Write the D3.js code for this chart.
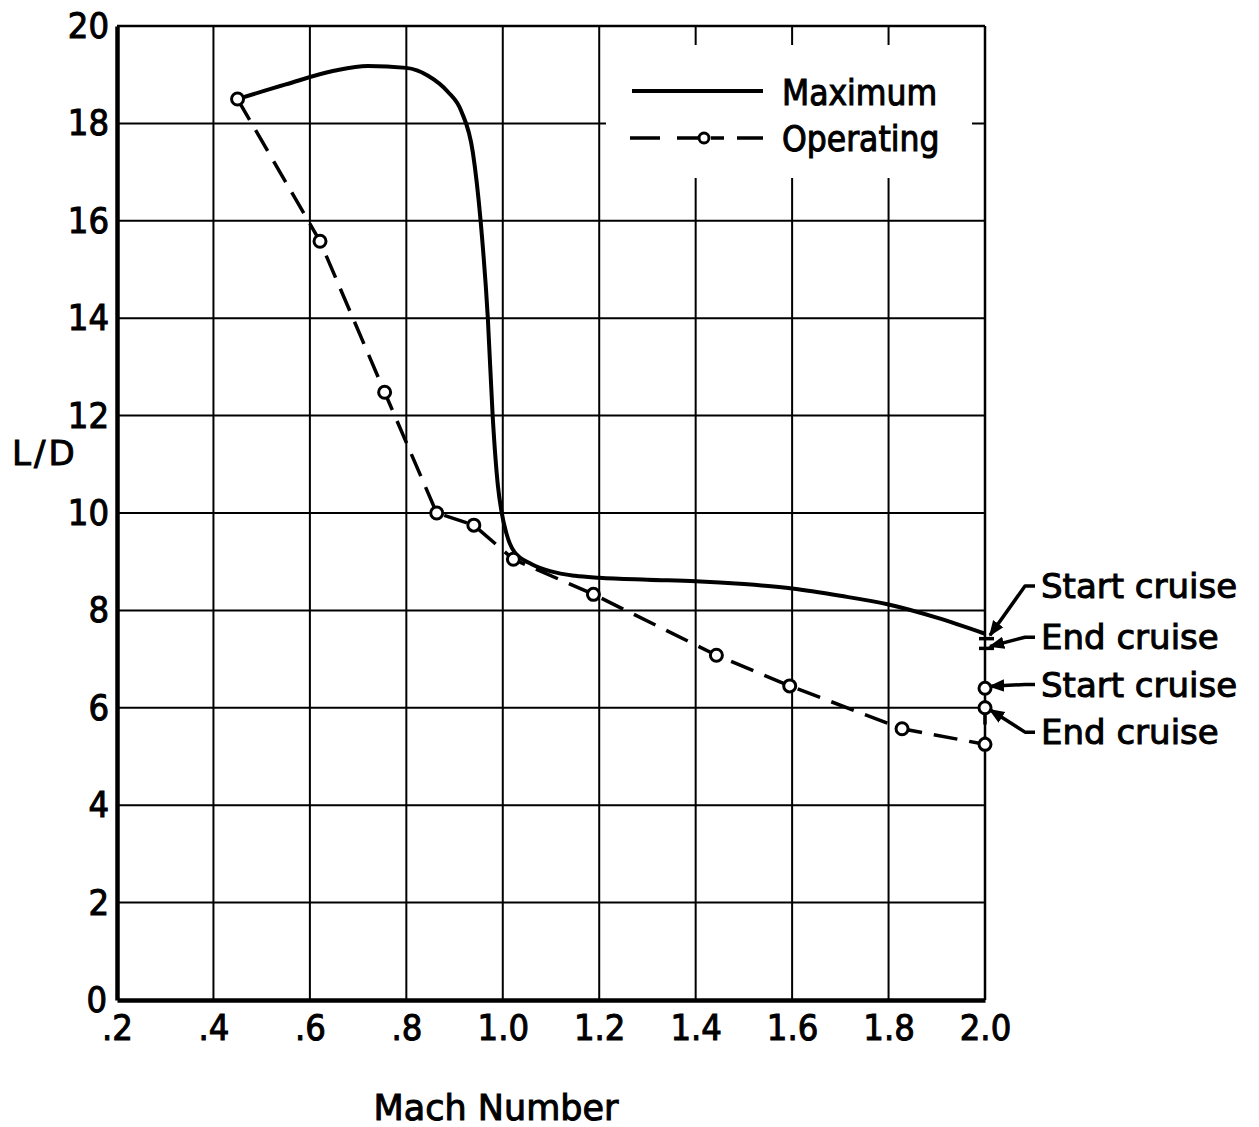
<!DOCTYPE html>
<html>
<head>
<meta charset="utf-8">
<script src="https://cdn.jsdelivr.net/npm/d3@7"></script>
<style>
  body { margin: 0; background: #fff; }
  text { font-family: "DejaVu Sans Condensed", "DejaVu Sans", sans-serif; fill: #000; stroke: #000; stroke-width: 1px; }
  text.wide { font-family: "DejaVu Sans", sans-serif; }
</style>
</head>
<body>
<svg id="chart" width="1259" height="1127"></svg>
<script>
// maximum L/D curve
const maxMach = [0.45, 0.55, 0.65, 0.72, 0.80, 0.845, 0.886, 0.914, 0.938, 0.954, 0.969, 0.979, 0.990, 0.997, 1.007, 1.024, 1.06, 1.10, 1.15, 1.20, 1.30, 1.40, 1.50, 1.60, 1.70, 1.80, 1.90, 2.00];
const maxLD   = [18.5, 18.8, 19.08, 19.18, 19.14, 18.98, 18.65, 18.25, 17.4, 16.0, 14.0, 12.0, 10.55, 10.05, 9.6, 9.2, 8.95, 8.8, 8.71, 8.67, 8.63, 8.6, 8.54, 8.45, 8.3, 8.12, 7.85, 7.52];
// operating L/D points
const opMach = [0.45, 0.621, 0.755, 0.863, 0.94, 1.022, 1.188, 1.443, 1.595, 1.828, 2.0, 2.0, 2.0];
const opLD   = [18.5, 15.58, 12.48, 10.0, 9.75, 9.05, 8.33, 7.08, 6.45, 5.57, 5.25, 6.0, 6.4];
// end-cruise tick marks on maximum curve at M=2.0
const maxCruiseLD = [7.42, 7.22];

const xTicks = [0.2, 0.4, 0.6, 0.8, 1.0, 1.2, 1.4, 1.6, 1.8, 2.0];
const xTickLabels = [".2", ".4", ".6", ".8", "1.0", "1.2", "1.4", "1.6", "1.8", "2.0"];
const yTicks = [0, 2, 4, 6, 8, 10, 12, 14, 16, 18, 20];

const annLabels = ["Start cruise", "End cruise", "Start cruise", "End cruise"];
const annTargetLD = [7.45, 7.22, 6.4, 6.0];
const annTextLD = [8.5, 7.45, 6.48, 5.5];

const pl = 117, pr = 985, pt = 26, pb = 1000;

const svg = d3.select("#chart");
const x = d3.scaleLinear().domain([0.2, 2.0]).range([pl, pr]);
const y = d3.scaleLinear().domain([0, 20]).range([pb, pt]);

// grid
svg.append("g").selectAll("line").data(xTicks.slice(1, -1)).enter().append("line")
  .attr("x1", d => x(d)).attr("x2", d => x(d)).attr("y1", pt).attr("y2", pb)
  .attr("stroke", "#000").attr("stroke-width", 2);
svg.append("g").selectAll("line").data(yTicks.slice(1, -1)).enter().append("line")
  .attr("x1", pl).attr("x2", pr).attr("y1", d => y(d)).attr("y2", d => y(d))
  .attr("stroke", "#000").attr("stroke-width", 2);

// frame
svg.append("line").attr("x1", pl).attr("x2", pr).attr("y1", pt).attr("y2", pt)
  .attr("stroke", "#000").attr("stroke-width", 2.5);
svg.append("line").attr("x1", pr).attr("x2", pr).attr("y1", pt).attr("y2", pb)
  .attr("stroke", "#000").attr("stroke-width", 2.5);

// legend box (white, hides grid)
svg.append("rect").attr("x", 606).attr("y", 45).attr("width", 366).attr("height", 133).attr("fill", "#fff");

// axes
const xAxis = svg.append("g").attr("transform", `translate(0,${pb})`)
  .call(d3.axisBottom(x).tickValues(xTicks).tickFormat((d, i) => xTickLabels[i]).tickSize(0).tickPadding(14));
const yAxis = svg.append("g").attr("transform", `translate(${pl},0)`)
  .call(d3.axisLeft(y).tickValues(yTicks).tickFormat(d3.format("d")).tickSize(0).tickPadding(8));
[xAxis, yAxis].forEach(g => {
  g.select(".domain").attr("stroke", "#000").attr("stroke-width", 4.5);
  g.selectAll("text").style("font-size", "36px").attr("fill", "#000");
});
xAxis.selectAll("text").attr("dy", "0.72em");
yAxis.selectAll(".tick").filter(d => d === 0).select("text").attr("dy", "0.32em").attr("x", -10);

// maximum curve
const lineMax = d3.line().x(d => x(d[0])).y(d => y(d[1])).curve(d3.curveMonotoneX);
svg.append("path").datum(maxMach.map((m, i) => [m, maxLD[i]]))
  .attr("d", lineMax).attr("fill", "none").attr("stroke", "#000").attr("stroke-width", 4);
svg.append("g").selectAll("line").data(maxCruiseLD).enter().append("line")
  .attr("x1", x(2.0) - 6).attr("x2", x(2.0) + 9).attr("y1", d => y(d)).attr("y2", d => y(d))
  .attr("stroke", "#000").attr("stroke-width", 3.5);

// operating curve
const opPts = opMach.map((m, i) => [m, opLD[i]]);
const lineOp = d3.line().x(d => x(d[0])).y(d => y(d[1]));
svg.append("path").datum(opPts).attr("d", lineOp).attr("fill", "none")
  .attr("stroke", "#000").attr("stroke-width", 3.5).attr("stroke-dasharray", "24,12");
svg.append("g").selectAll("circle").data(opPts).enter().append("circle")
  .attr("cx", d => x(d[0])).attr("cy", d => y(d[1])).attr("r", 6)
  .attr("fill", "#fff").attr("stroke", "#000").attr("stroke-width", 3);

// legend
svg.append("line").attr("x1", 632).attr("x2", 763).attr("y1", 91).attr("y2", 91)
  .attr("stroke", "#000").attr("stroke-width", 4);
svg.append("line").attr("x1", 630).attr("x2", 763).attr("y1", 138).attr("y2", 138)
  .attr("stroke", "#000").attr("stroke-width", 3.5).attr("stroke-dasharray", "30,17,26,8,13,13,25,0");
svg.append("circle").attr("cx", 704).attr("cy", 138).attr("r", 5)
  .attr("fill", "#fff").attr("stroke", "#000").attr("stroke-width", 3);
svg.append("text").attr("x", 782).attr("y", 105).style("font-size", "35px").text("Maximum");
svg.append("text").attr("x", 782).attr("y", 151).style("font-size", "35px").text("Operating");

// annotations
svg.append("defs").append("marker").attr("id", "ah").attr("viewBox", "0 0 10 10")
  .attr("refX", 9).attr("refY", 5).attr("markerWidth", 4.5).attr("markerHeight", 4.5)
  .attr("markerUnits", "strokeWidth").attr("orient", "auto")
  .append("path").attr("d", "M0,1 L10,5 L0,9 Z").attr("fill", "#000");
annLabels.forEach((t, i) => {
  const ty = y(annTextLD[i]);
  const tx = x(2.0);
  const ey = y(annTargetLD[i]);
  svg.append("path")
    .attr("d", `M${tx + 50},${ty} L${tx + 40},${ty} L${tx + 5},${ey + (ty > ey ? 2 : -2)}`)
    .attr("fill", "none").attr("stroke", "#000").attr("stroke-width", 3.5)
    .attr("stroke-linejoin", "round").attr("marker-end", "url(#ah)");
  svg.append("text").attr("class", "wide").attr("x", tx + 56).attr("y", ty).attr("dy", "0.36em")
    .style("font-size", "34px").text(t);
});

// axis titles
svg.append("text").attr("class", "wide").attr("x", 12).attr("y", 465).style("font-size", "34px")
  .style("letter-spacing", "3px").text("L/D");
svg.append("text").attr("class", "wide").attr("x", 496).attr("y", 1120).attr("text-anchor", "middle")
  .style("font-size", "35px").text("Mach Number");
</script>
</body>
</html>
